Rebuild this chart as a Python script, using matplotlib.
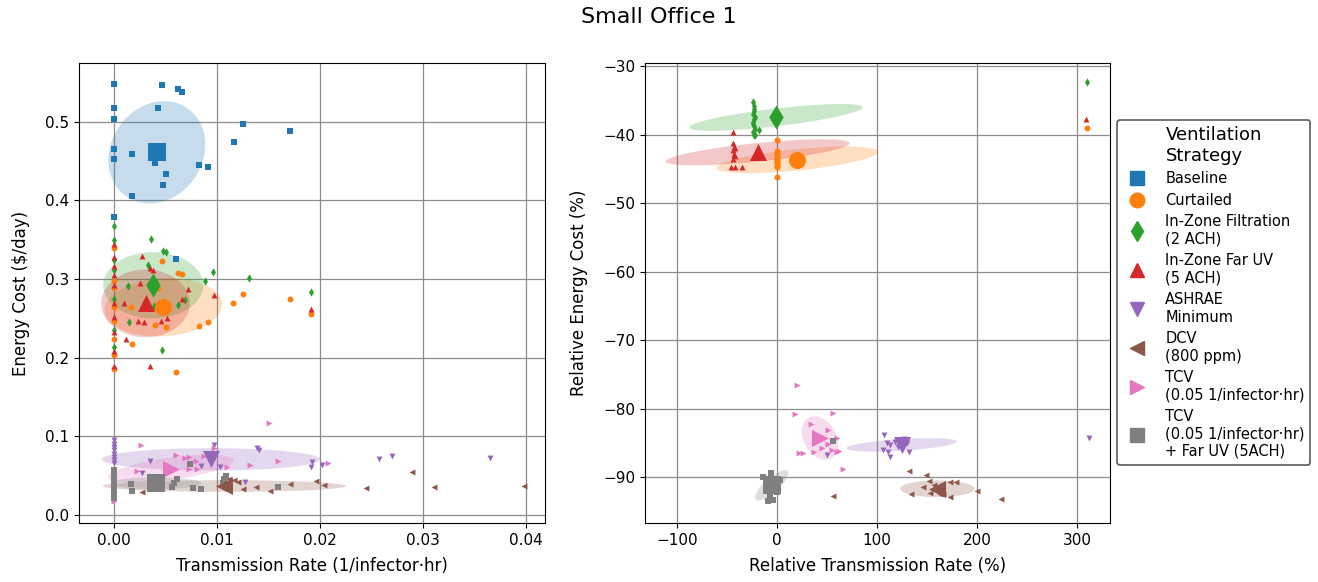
import matplotlib
matplotlib.use("Agg")
import matplotlib.pyplot as plt
import numpy as np
from matplotlib.lines import Line2D

# strategy names, colours and markers (legend order)
strategies = [
    "Baseline",
    "Curtailed",
    "In-Zone Filtration\n(2 ACH)",
    "In-Zone Far UV\n(5 ACH)",
    "ASHRAE\nMinimum",
    "DCV\n(800 ppm)",
    "TCV\n(0.05 1/infector·hr)",
    "TCV\n(0.05 1/infector·hr)\n+ Far UV (5ACH)",
]
colors = ["C0", "C1", "C2", "C3", "C4", "C5", "C6", "C7"]
markers = ["s", "o", "d", "^", "v", "<", ">", "s"]

# ---- absolute values: transmission rate (1/infector·hr), energy cost ($/day)
base_tx = [0, 0.00469, 0.00624, 0.00657, 0, 0.0043, 0, 0.0125, 0.01706, 0.01162, 0,
           0, 0.00172, 0.004, 0.00825, 0.0091, 0.00502, 0.00473, 0.00178, 0, 0.006]
base_cost = [0.548, 0.546, 0.542, 0.538, 0.517, 0.517, 0.503, 0.497, 0.488, 0.474, 0.465,
             0.453, 0.4585, 0.448, 0.445, 0.442, 0.433, 0.42, 0.405, 0.379, 0.326]

curt_tx = [0, 0, 0, 0, 0, 0, 0, 0, 0.00469, 0.00624, 0.00657, 0.0125, 0.01158, 0.01706,
           0.01913, 0.00168, 0.004, 0.00502, 0.00825, 0.0091, 0.00178, 0.00602, 0.00424]
curt_cost = [0.339, 0.298, 0.288, 0.264, 0.247, 0.224, 0.203, 0.185, 0.323, 0.308, 0.306,
             0.281, 0.269, 0.274, 0.256, 0.264, 0.241, 0.239, 0.240, 0.245, 0.217, 0.182, 0.289]

filt_tx = [0, 0, 0, 0, 0, 0, 0, 0.00359, 0.00479, 0.00508, 0.00333, 0.00961, 0.00887,
           0.01307, 0.01913, 0.00136, 0.00392, 0.00624, 0.00693, 0.00149, 0.00466]
filt_cost = [0.367, 0.349, 0.324, 0.311, 0.275, 0.235, 0.214, 0.351, 0.336, 0.334, 0.318,
             0.309, 0.297, 0.301, 0.284, 0.291, 0.266, 0.267, 0.273, 0.245, 0.21]

uv_tx = [0, 0, 0, 0, 0, 0, 0, 0, 0, 0, 0.00269, 0.00353, 0.00379, 0.00252, 0.00715,
         0.00968, 0.001, 0.00657, 0.00236, 0.00294, 0.00456, 0.00515, 0.0012, 0.00346, 0.01913]
uv_cost = [0.345, 0.328, 0.317, 0.305, 0.292, 0.269, 0.252, 0.233, 0.209, 0.19, 0.329,
           0.314, 0.311, 0.295, 0.287, 0.28, 0.269, 0.275, 0.247, 0.245, 0.246, 0.251,
           0.224, 0.189, 0.262]

ash_tx = [0, 0, 0, 0, 0, 0, 0, 0, 0.00353, 0.00269, 0.00968, 0.00845, 0.01032, 0.01388,
          0.01408, 0.01275, 0.01925, 0.01913, 0.02016, 0.0257, 0.02696, 0.03654]
ash_cost = [0.095, 0.09, 0.086, 0.082, 0.078, 0.074, 0.07, 0.066, 0.0685, 0.0537, 0.0888,
            0.0622, 0.0605, 0.0846, 0.0825, 0.0423, 0.0677, 0.0605, 0.063, 0.0707,
            0.0749, 0.0723]

dcv_tx = [0.0289, 0.03104, 0.03978, 0.0245, 0.01964, 0.02036, 0.01706, 0.01512, 0.01382,
          0.01252, 0.01201, 0.01162, 0.0112, 0.00275, 0.0105]
dcv_cost = [0.0542, 0.036, 0.0368, 0.0339, 0.0436, 0.0381, 0.039, 0.0309, 0.0351, 0.0334,
            0.0419, 0.0444, 0.0453, 0.0296, 0.035]

tcv_tx = [0, 0, 0, 0.01505, 0.00262, 0.00974, 0.00605, 0.00689, 0.00728, 0.00796, 0.00877,
          0.01323, 0.01595, 0.0208, 0.01094, 0.00728, 0.00803, 0.00223]
tcv_cost = [0.0495, 0.035, 0.018, 0.1163, 0.0888, 0.085, 0.0761, 0.072, 0.074, 0.0689,
            0.0749, 0.0638, 0.0689, 0.0664, 0.0605, 0.0584, 0.0584, 0.0562]

tuv_tx = [0, 0, 0, 0, 0, 0, 0, 0, 0, 0, 0.00735, 0.00165, 0.00172, 0.00612, 0.0058,
          0.00566, 0.00764, 0.00845, 0.01065, 0.01087, 0.01055, 0.01595]
tuv_cost = [0.057, 0.053, 0.049, 0.045, 0.041, 0.037, 0.033, 0.029, 0.025, 0.021, 0.0647,
            0.039, 0.0301, 0.0453, 0.041, 0.0351, 0.0339, 0.0326, 0.0453, 0.0499,
            0.0402, 0.036]

# strategy means (large markers)
mean_tx = [0.00417, 0.00479, 0.00382, 0.00307, 0.00942, 0.01071, 0.00553, 0.00408]
mean_cost = [0.461, 0.264, 0.292, 0.269, 0.0707, 0.0368, 0.0588, 0.0402]

# spread ellipses: half width, half height, correlation
ell_a = [0.0047, 0.0057, 0.00485, 0.0043, 0.0106, 0.0118, 0.0061, 0.0044]
ell_b = [0.065, 0.037, 0.042, 0.043, 0.0142, 0.0074, 0.0178, 0.0075]
ell_rho = [0.15, 0.1, 0.0, 0.0, 0.0, 0.0, 0.6, 0.0]

# ---- relative to baseline (%)
curt_rtx = [0] * 14 + [310]
curt_rcost = [-40.8, -42.4, -42.9, -43.4, -43.9, -44.35, -44.8, -46.2, -43.1, -43.6,
              -44.1, -42.7, -44.6, -43.9, -39.0]

filt_rtx = [-24, -23, -23, -24, -22, -23, -24, -23, -22, -24, -23, -22, -23, -24, -17.7, 309.7]
filt_rcost = [-35.3, -35.8, -36.3, -37.0, -37.4, -37.8, -38.2, -38.7, -39.2, -39.7, -40.0,
              -40.0, -36.6, -38.4, -39.4, -32.4]

uv_rtx = [-43.7, -44, -43, -44, -43, -42, -44, -42, -43, -46.3, -42, -34.7, 309]
uv_rcost = [-39.7, -41.2, -41.8, -42.3, -42.8, -43.2, -43.6, -42.0, -43.0, -44.8, -44.8,
            -44.8, -37.7]

ash_rtx = [107.3, 109.7, 113, 105.7, 111.3, 113, 132, 118, 127, 130, 121, 49.7, 311.7]
ash_rcost = [-83.8, -85.0, -85.35, -86.0, -86.3, -87.1, -86.3, -84.9, -84.5, -85.0, -85.6,
             -86.8, -84.3]

dcv_rtx = [131.7, 149, 151.7, 173, 179, 146.3, 133.7, 153, 163, 166.3, 173, 199.7, 223.7,
           55.7, 157, 160]
dcv_rcost = [-89.15, -89.7, -90.6, -90.7, -90.7, -91.5, -92.5, -92.3, -92.5, -92.4, -92.9,
             -92.0, -93.25, -92.8, -91.2, -92.0]

tcv_rtx = [20.3, 18, 56.3, 33.7, 51.3, 59.7, 44.7, 37, 54.7, 59.7, 62.3, 22.3, 25.7, 65.7,
           51.3, 38]
tcv_rcost = [-76.6, -80.85, -80.7, -82.2, -83.15, -84.3, -85.7, -86.3, -86.1, -86.3, -86.2,
             -86.5, -86.5, -88.8, -85.1, -84.0]

tuv_rtx = [-6.3, -13.7, -11, -5.3, -0.3, 3, -7, -3.7, -8.7, -10, 0, 55.7]
tuv_rcost = [-89.4, -90.0, -91.0, -91.4, -91.4, -90.4, -92.8, -93.3, -93.5, -92.0, -92.2,
             -84.75]

rmean_tx = [20.3, -1, -19.3, 124.7, 160.3, 43, -5.3]
rmean_cost = [-43.7, -37.5, -42.6, -85.3, -91.7, -84.3, -91.2]

rell_a = [80.8, 86.7, 92, 55.3, 37.2, 18.3, 16.7]
rell_b = [1.95, 1.95, 1.9, 0.98, 1.22, 3.17, 2.2]
rell_rho = [0.6, 0.75, 0.7, 0.5, 0.0, -0.3, 0.8]


def draw_ellipse(ax, cx, cy, a, b, rho, color):
    t = np.linspace(0, 2 * np.pi, 200)
    ex = cx + a * np.cos(t)
    ey = cy + b * (rho * np.cos(t) + np.sqrt(1 - rho ** 2) * np.sin(t))
    ax.fill(ex, ey, color=color, alpha=0.25, lw=0, zorder=1)


def draw_panel(ax, points, means_x, means_y, ea, eb, erho, idx):
    for k, (px, py) in zip(idx, points):
        ax.scatter(px, py, s=18, marker=markers[k], color=colors[k], lw=0, zorder=3)
    for j, k in enumerate(idx):
        draw_ellipse(ax, means_x[j], means_y[j], ea[j], eb[j], erho[j], colors[k])
        ax.scatter(means_x[j], means_y[j], s=150, marker=markers[k], color=colors[k],
                   lw=0, zorder=4)
    ax.grid(color="0.55", lw=0.9)
    ax.set_axisbelow(True)
    ax.tick_params(labelsize=11)


fig = plt.figure(figsize=(13.18, 5.82), dpi=100)
ax1 = fig.add_axes([0.0599, 0.1014, 0.3536, 0.7904])
ax2 = fig.add_axes([0.4894, 0.1014, 0.3528, 0.7904])

left_points = [(base_tx, base_cost), (curt_tx, curt_cost), (filt_tx, filt_cost),
               (uv_tx, uv_cost), (ash_tx, ash_cost), (dcv_tx, dcv_cost),
               (tcv_tx, tcv_cost), (tuv_tx, tuv_cost)]
draw_panel(ax1, left_points, mean_tx, mean_cost, ell_a, ell_b, ell_rho, range(8))
ax1.set_xlim(-0.00339, 0.04183)
ax1.set_ylim(-0.0102, 0.5746)
ax1.set_xlabel("Transmission Rate (1/infector·hr)", fontsize=12, labelpad=7)
ax1.set_ylabel("Energy Cost ($/day)", fontsize=12, labelpad=11)

right_points = [(curt_rtx, curt_rcost), (filt_rtx, filt_rcost), (uv_rtx, uv_rcost),
                (ash_rtx, ash_rcost), (dcv_rtx, dcv_rcost), (tcv_rtx, tcv_rcost),
                (tuv_rtx, tuv_rcost)]
draw_panel(ax2, right_points, rmean_tx, rmean_cost, rell_a, rell_b, rell_rho, range(1, 8))
ax2.set_xlim(-132, 333)
ax2.set_ylim(-96.7, -29.56)
ax2.set_xlabel("Relative Transmission Rate (%)", fontsize=12, labelpad=7)
ax2.set_ylabel("Relative Energy Cost (%)", fontsize=12, labelpad=11)

fig.suptitle("Small Office 1", fontsize=16, y=0.988)

handles = [Line2D([], [], ls="none", marker=m, color=c, markersize=10.5)
           for m, c in zip(markers, colors)]
leg = fig.legend(handles, strategies, title="Ventilation\nStrategy", loc="upper left",
                 bbox_to_anchor=(0.8475, 0.794), borderaxespad=0, fontsize=10.5,
                 title_fontsize=13, frameon=True, handletextpad=0.9, labelspacing=0.45)
leg.get_frame().set_edgecolor("0.2")
leg.get_frame().set_linewidth(1.2)

fig.savefig("out.png", dpi=100)
